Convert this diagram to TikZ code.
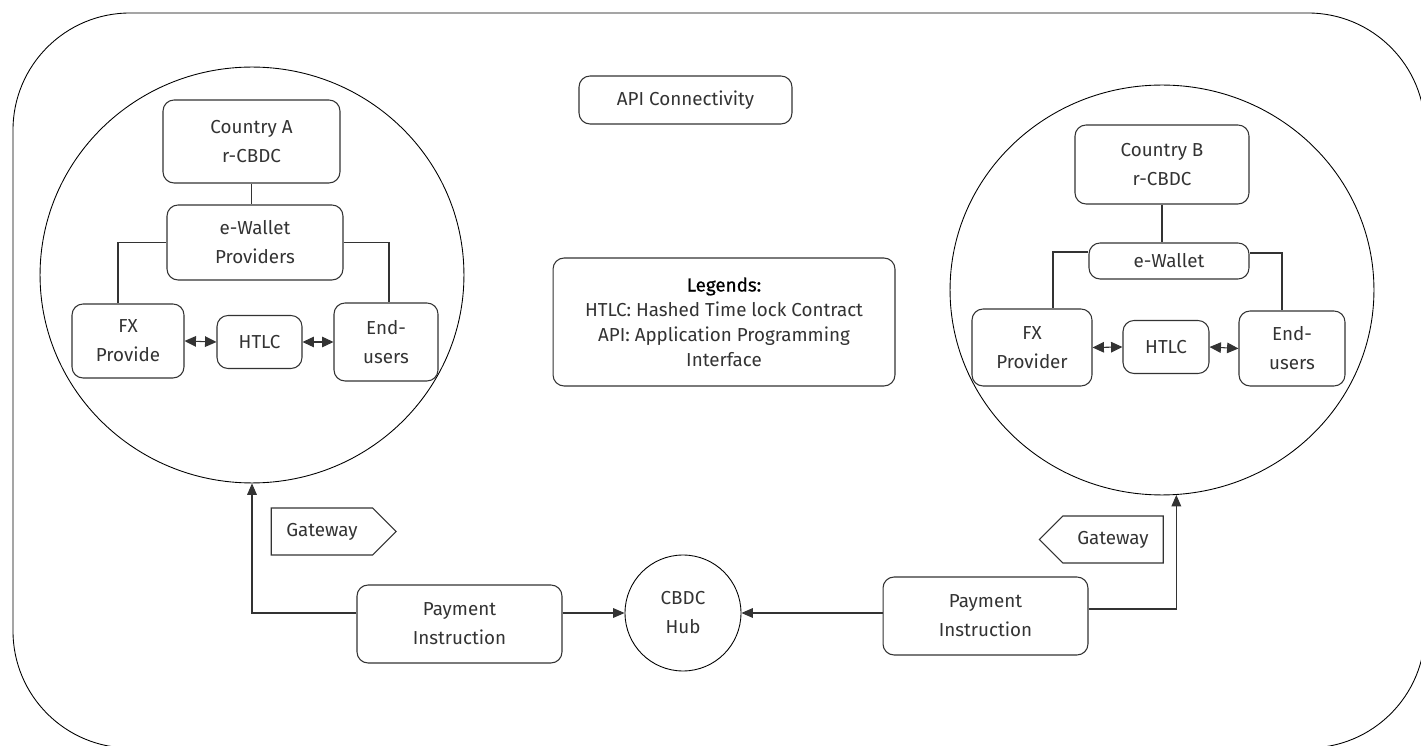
\documentclass[tikz,border=0pt]{standalone}
\usepackage{fontspec}
\setmainfont{Fira Sans}
\usepackage{tikz}
\usetikzlibrary{arrows.meta, positioning, shapes.geometric, shapes.symbols}
\definecolor{ink}{HTML}{333333}

\begin{document}
\begin{tikzpicture}[x=0.02cm, y=-0.02cm, line width=0.6pt,
    box/.style={rectangle, draw=ink, rounded corners=0.22cm, text=ink, align=center, inner sep=0pt, font=\fontsize{10.7}{16.5}\selectfont},
    ring/.style={ellipse, draw=black, line width=0.5pt, inner sep=0pt},
    gate/.style={signal, draw=ink, text=ink, signal pointer angle=90, inner sep=0pt, font=\fontsize{10.7}{16.5}\selectfont},
    link/.style={draw=ink},
    tip/.style={-{Triangle[length=6.5pt,width=5.5pt]}},
    dbl/.style={{Triangle[length=6.5pt,width=6pt]}-{Triangle[length=6.5pt,width=6pt]}}]
    \path[use as bounding box, clip] (0,0) rectangle (1421,746);
    \draw[line width=0.5pt, rounded corners=2.34cm] (13,13) rectangle (1425,748);

    \node[box, minimum width=4.26cm, minimum height=0.96cm] (api) at (685.5,100) {API Connectivity};
    \node[box, minimum width=6.84cm, minimum height=2.56cm, font=\fontsize{10.7}{14.2}\selectfont] (legend) at (724,322)
        {\textcolor{black}{\addfontfeatures{FakeBold=0.6}Legends:}\\HTLC: Hashed Time lock Contract\\API: Application Programming\\Interface};

    \node[ring, minimum width=8.48cm, minimum height=8.32cm] (cirA) at (252,275) {};
    \node[box, minimum width=3.54cm, minimum height=1.66cm] (ctyA) at (251.5,141.5) {Country A\\r-CBDC};
    \node[box, minimum width=3.52cm, minimum height=1.5cm] (walA) at (255,242.5) {e-Wallet\\Providers};
    \node[box, minimum width=2.24cm, minimum height=1.48cm] (fxA) at (128,341) {FX\\Provide};
    \node[box, minimum width=1.7cm, minimum height=1.06cm] (htlcA) at (259.5,342) {HTLC};
    \node[box, minimum width=2.08cm, minimum height=1.56cm] (endA) at (386,342) {End-\\users};

    \node[ring, minimum width=8.48cm, minimum height=8.2cm] (cirB) at (1162,290) {};
    \node[box, minimum width=3.48cm, minimum height=1.58cm] (ctyB) at (1162,164.5) {Country B\\r-CBDC};
    \node[box, minimum width=3.2cm, minimum height=0.72cm] (walB) at (1169,261) {e-Wallet};
    \node[box, minimum width=2.4cm, minimum height=1.54cm] (fxB) at (1032,347.5) {FX\\Provider};
    \node[box, minimum width=1.72cm, minimum height=1.06cm] (htlcB) at (1166,347) {HTLC};
    \node[box, minimum width=2.12cm, minimum height=1.5cm] (endB) at (1292,348.5) {End-\\users};

    \node[gate, signal to=east, minimum width=2.5cm, minimum height=0.94cm] (gwA) at (322,531.5) {Gateway};
    \node[gate, signal to=west, minimum width=2.48cm, minimum height=0.94cm] (gwB) at (1113,539.5) {Gateway};

    \node[circle, draw=black, line width=0.5pt, text=ink, align=center, inner sep=0pt, minimum size=2.32cm, font=\fontsize{10.7}{16.5}\selectfont] (hub) at (683,613) {CBDC\\Hub};
    \node[box, minimum width=4.1cm, minimum height=1.56cm] (payA) at (459.5,624) {Payment\\Instruction};
    \node[box, minimum width=4.1cm, minimum height=1.56cm] (payB) at (985.5,616) {Payment\\Instruction};

    \draw[link] (ctyA.south) -- (ctyA.south |- walA.north);
    \draw[link] (walA.west) -| ([xshift=-0.2cm]fxA.north);
    \draw[link] (walA.east) -| ([xshift=0.06cm]endA.north);
    \draw[link, dbl] (fxA.east) -- (htlcA.west);
    \draw[link, dbl] (htlcA.east) -- (endA.west);

    \draw[link] (ctyB.south) -- (ctyB.south |- walB.north);
    \draw[link] ([yshift=0.18cm]walB.west) -| ([xshift=0.42cm]fxB.north);
    \draw[link] ([yshift=0.16cm]walB.east) -| ([xshift=-0.2cm]endB.north);
    \draw[link, dbl] (fxB.east) -- (htlcB.west);
    \draw[link, dbl] (htlcB.east) -- (endB.west);

    \draw[link, tip] (payA.west |- hub) -| (cirA.south);
    \draw[link, tip] (payA.east |- hub) -- (hub.west);
    \draw[link, tip] (payB.west |- hub) -- (hub.east);
    \draw[link, tip] ([yshift=0.14cm]payB.east) -| (cirB.-86);
\end{tikzpicture}
\end{document}
